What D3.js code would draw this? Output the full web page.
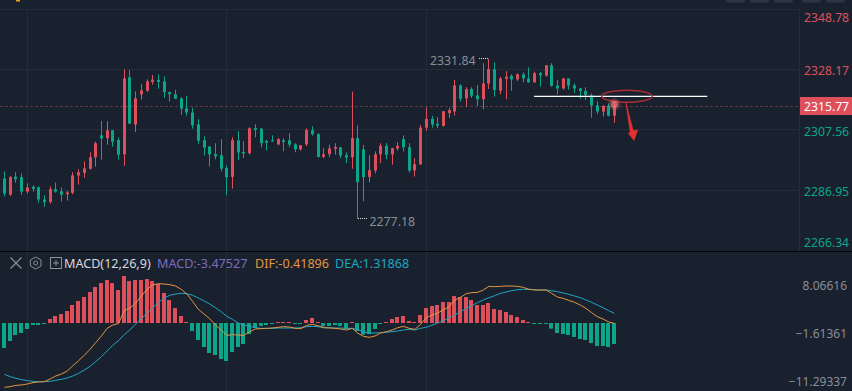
<!DOCTYPE html>
<html>
<head>
<meta charset="utf-8">
<script src="https://cdn.jsdelivr.net/npm/d3@7/dist/d3.min.js"></script>
<style>
  html, body { margin: 0; padding: 0; background: #1a212e; overflow: hidden; }
  svg { display: block; font-family: "Noto Sans", sans-serif; }
</style>
</head>
<body>
<div id="chart-container"></div>
<script>
// Candles
const opens = [2291.0,2285.4,2291.6,2291.4,2286.5,2288.1,2287.9,2283.8,2282.9,2287.3,2286.6,2285.6,2286.1,2292.0,2292.9,2294.3,2298.2,2305.7,2304.7,2307.4,2304.1,2299.2,2325.5,2309.4,2319.7,2320.9,2323.9,2324.6,2324.1,2320.4,2319.7,2318.3,2314.9,2313.5,2309.4,2304.0,2301.9,2299.3,2298.9,2294.5,2291.5,2304.0,2300.0,2299.6,2308.2,2308.0,2303.8,2304.0,2302.6,2304.0,2304.0,2302.6,2300.9,2302.6,2307.4,2306.1,2298.4,2299.3,2301.1,2301.6,2298.9,2298.2,2304.7,2300.9,2291.5,2293.7,2299.2,2302.1,2299.2,2301.2,2304.4,2301.6,2293.7,2295.8,2308.3,2311.3,2309.6,2308.9,2313.3,2313.8,2322.7,2318.3,2321.5,2319.3,2318.0,2323.4,2328.2,2320.9,2325.0,2326.0,2324.8,2326.5,2325.1,2323.8,2326.9,2326.1,2329.6,2322.7,2321.7,2325.1,2322.7,2321.7,2320.8,2319.3,2315.9,2313.8,2315.8,2312.4];
const highs = [2293.4,2291.8,2293.1,2292.7,2289.3,2288.6,2288.3,2285.2,2288.3,2289.6,2287.9,2286.7,2293.1,2294.1,2296.8,2299.9,2303.5,2310.6,2310.5,2307.5,2305.0,2328.3,2328.0,2320.7,2323.2,2324.8,2326.3,2326.5,2325.8,2320.7,2321.2,2318.7,2319.1,2315.1,2311.2,2305.4,2302.0,2303.0,2304.4,2295.5,2305.0,2307.1,2303.7,2308.4,2309.5,2308.2,2304.1,2305.7,2304.8,2304.7,2306.4,2303.0,2302.4,2308.1,2308.8,2306.4,2301.3,2302.5,2303.0,2301.7,2299.9,2320.6,2309.1,2302.4,2298.9,2300.2,2303.0,2303.0,2301.4,2303.4,2305.7,2303.0,2297.9,2309.2,2315.2,2312.3,2311.9,2314.0,2315.1,2324.6,2323.1,2322.1,2322.1,2322.9,2330.3,2331.84,2330.6,2325.7,2327.6,2326.5,2326.8,2327.2,2328.9,2327.4,2327.4,2329.7,2330.3,2324.6,2325.3,2325.1,2323.4,2321.9,2322.1,2320.0,2317.3,2316.0,2316.6,2317.2];
const lows = [2284.8,2285.0,2289.5,2285.4,2285.8,2286.5,2282.7,2281.3,2282.4,2286.1,2283.1,2283.4,2285.6,2288.9,2291.2,2294.0,2295.0,2297.4,2302.5,2301.8,2297.4,2295.3,2309.6,2306.8,2317.9,2320.5,2323.0,2321.6,2318.5,2317.2,2318.1,2312.7,2312.4,2308.0,2302.8,2298.8,2295.0,2297.5,2293.4,2285.2,2287.5,2297.2,2297.9,2299.1,2305.0,2301.6,2300.6,2303.6,2302.3,2300.3,2301.6,2299.9,2300.5,2302.0,2305.6,2298.1,2297.9,2298.2,2299.1,2297.9,2296.2,2294.3,2277.18,2283.2,2289.7,2292.7,2296.2,2297.5,2295.7,2300.5,2300.2,2293.0,2291.6,2295.6,2307.2,2308.3,2308.1,2308.7,2311.7,2312.4,2317.2,2315.5,2318.5,2315.8,2314.6,2321.5,2318.9,2319.7,2318.0,2320.9,2324.2,2323.8,2323.6,2323.6,2322.3,2325.7,2322.3,2319.7,2321.3,2321.3,2320.2,2318.2,2317.7,2311.7,2312.9,2312.1,2312.1,2310.0];
const closes = [2285.8,2291.4,2290.7,2286.5,2287.9,2287.4,2283.8,2282.9,2287.3,2286.5,2285.4,2286.2,2292.0,2293.1,2294.4,2298.2,2303.0,2304.6,2307.4,2303.5,2299.1,2325.1,2309.7,2318.3,2321.0,2324.1,2324.7,2323.9,2320.4,2319.7,2318.2,2314.8,2313.5,2309.1,2303.9,2301.5,2299.2,2298.5,2294.3,2291.4,2304.0,2299.9,2299.5,2308.1,2307.6,2303.0,2303.2,2303.6,2304.4,2303.4,2302.5,2300.9,2302.3,2307.5,2306.1,2298.3,2299.2,2301.2,2301.7,2298.8,2298.1,2304.7,2289.7,2291.4,2293.8,2299.2,2302.1,2299.1,2301.3,2302.1,2301.6,2293.7,2295.8,2308.3,2311.3,2309.4,2309.0,2313.9,2314.3,2322.7,2318.2,2321.4,2319.2,2318.0,2323.4,2328.3,2321.2,2325.1,2325.7,2324.8,2326.5,2325.1,2323.8,2326.9,2326.2,2329.6,2322.6,2321.7,2325.1,2322.7,2321.7,2320.8,2319.5,2315.9,2313.8,2315.7,2312.4,2315.77];

// MACD panel
const histValues = [-5.04,-3.63,-2.42,-2.02,-1.21,-0.40,-0.40,-0.13,0.81,1.41,1.81,2.42,3.63,4.44,5.24,6.25,7.26,8.06,8.67,8.06,6.65,9.48,8.47,8.67,8.67,8.87,8.47,7.86,6.05,4.64,3.02,1.41,0.07,-1.61,-3.43,-4.84,-6.05,-6.45,-7.26,-7.66,-5.85,-4.84,-4.23,-2.22,-1.01,-0.60,-0.40,-0.13,0.07,0.20,0.07,-0.13,-0.13,0.60,1.01,0.13,-0.67,-0.60,-0.40,-0.60,-1.14,0.13,-1.61,-2.35,-2.22,-1.21,-0.13,0.07,0.81,1.21,1.41,0.40,0.07,1.61,3.02,3.43,3.63,4.23,4.23,5.44,5.24,5.24,4.64,3.63,3.63,4.03,2.82,2.62,2.22,1.61,1.21,0.60,0.07,-0.07,-0.20,-0.07,-1.14,-2.02,-2.22,-2.42,-2.82,-3.23,-3.43,-4.03,-4.64,-4.64,-4.84,-4.23];
const difValues = [-12.97,-12.84,-12.57,-12.50,-12.30,-12.03,-11.89,-11.83,-11.29,-10.68,-10.28,-9.68,-8.60,-7.59,-6.52,-5.31,-3.96,-2.62,-1.08,-0.40,-0.13,2.49,3.02,3.96,5.44,6.79,7.66,7.93,7.86,7.73,7.46,6.79,5.85,4.37,2.76,1.81,0.87,-0.40,-1.41,-2.49,-2.35,-2.42,-2.49,-1.75,-1.21,-1.14,-1.08,-1.01,-0.87,-0.74,-0.81,-1.08,-1.14,-0.47,-0.27,-0.54,-0.94,-1.01,-1.08,-1.21,-1.41,-1.08,-2.08,-2.69,-2.89,-2.62,-2.02,-1.75,-1.41,-0.94,-0.67,-1.08,-1.28,-0.27,1.08,1.61,2.02,2.62,3.29,4.64,5.17,5.91,6.12,6.18,6.65,7.39,7.32,7.39,7.46,7.46,7.39,7.19,6.79,6.65,6.65,6.65,5.98,5.24,4.97,4.57,4.17,3.63,2.96,2.08,1.28,0.81,0.20,-0.07];
const deaValues = [-10.35,-10.82,-11.16,-11.42,-11.63,-11.76,-11.83,-11.83,-11.76,-11.56,-11.36,-11.09,-10.68,-10.15,-9.48,-8.74,-7.80,-6.79,-5.64,-4.50,-3.56,-2.35,-1.41,-0.20,0.87,1.95,3.09,4.10,5.04,5.58,5.85,5.98,5.91,5.58,5.04,4.44,3.83,3.09,2.28,1.34,0.74,0.00,-0.40,-0.67,-0.94,-1.08,-1.08,-1.08,-1.01,-1.01,-1.01,-1.01,-0.94,-0.74,-0.67,-0.74,-0.94,-0.94,-1.01,-1.01,-1.08,-1.08,-1.34,-1.75,-2.08,-2.02,-1.95,-1.88,-1.75,-1.61,-1.41,-1.28,-1.41,-1.08,-0.85,-0.45,0.00,0.45,1.05,1.60,2.30,2.89,3.56,4.10,4.64,5.11,5.51,5.98,6.25,6.52,6.72,6.79,6.79,6.72,6.65,6.65,6.52,6.32,6.05,5.78,5.44,5.11,4.64,4.17,3.63,3.09,2.49,1.95];

const priceTicks = [2348.78, 2328.17, 2307.56, 2286.95, 2266.34];
const macdTicks = [8.06616, -1.61361, -11.29337];
const lastPrice = 2315.77;
const highLabel = 2331.84, highIndex = 85;
const lowLabel = 2277.18, lowIndex = 62;

const width = 852, height = 391;
const bg = '#1a212e', grid = '#232d3a', red = '#de4f5c', green = '#0ca58a', gray = '#898d98';

const x = d3.scaleLinear().domain([0, 107]).range([4.5, 614.4]);
const px = i => Math.floor(x(i));
const y = d3.scaleLinear().domain([2266.34, 2348.78]).range([250.6, 9.1]);
const my = d3.scaleLinear().domain([-11.29337, 8.06616]).range([379, 283]);

const svg = d3.select('#chart-container').append('svg')
  .attr('width', width).attr('height', height);

svg.append('rect').attr('width', width).attr('height', height).attr('fill', bg);

// toolbar stubs cut off at the top edge
svg.append('g').selectAll('rect')
  .data([726, 750, 774, 802, 826])
  .join('rect')
  .attr('x', d => d).attr('y', -4).attr('width', 19).attr('height', 6.5).attr('rx', 2.5)
  .attr('fill', '#2c3542');
svg.append('rect').attr('x', 16).attr('y', 0).attr('width', 4).attr('height', 1.5).attr('fill', '#e8a32c');

// grid
const gridG = svg.append('g').attr('stroke', grid).attr('fill', 'none').attr('shape-rendering', 'crispEdges');
gridG.selectAll('.h').data(priceTicks.slice(0, 4)).join('line').attr('class', 'h')
  .attr('x1', 0).attr('x2', 800)
  .attr('y1', d => Math.floor(y(d)) + .5).attr('y2', d => Math.floor(y(d)) + .5);
gridG.selectAll('.v').data([27, 226, 426]).join('line').attr('class', 'v')
  .attr('x1', d => d + .5).attr('x2', d => d + .5).attr('y1', 9).attr('y2', 391);
gridG.append('line').attr('x1', 799.5).attr('x2', 799.5).attr('y1', 9).attr('y2', 251);

// last price line
svg.append('line')
  .attr('x1', 0).attr('x2', 800)
  .attr('y1', Math.round(y(lastPrice)) + .5).attr('y2', Math.round(y(lastPrice)) + .5)
  .attr('stroke', '#5e3540').attr('stroke-width', 1).attr('stroke-dasharray', '3 2');

// candles
const idx = d3.range(opens.length);
const candles = svg.append('g').selectAll('g').data(idx).join('g')
  .attr('fill', i => closes[i] >= opens[i] ? red : green);
candles.append('rect')
  .attr('x', i => px(i)).attr('width', 1)
  .attr('y', i => y(highs[i]))
  .attr('height', i => y(lows[i]) - y(highs[i]));
candles.append('rect')
  .attr('x', i => px(i) - 1).attr('width', 3)
  .attr('y', i => y(Math.max(opens[i], closes[i])))
  .attr('height', i => Math.max(1, Math.abs(y(opens[i]) - y(closes[i]))));

// high / low markers
[[highIndex, highLabel, -1], [lowIndex, lowLabel, 1]].forEach(([i, v, dir]) => {
  svg.append('line')
    .attr('x1', px(i) + (dir > 0 ? 1 : 0)).attr('x2', px(i) + dir * 10)
    .attr('y1', Math.floor(y(v)) + .5).attr('y2', Math.floor(y(v)) + .5)
    .attr('stroke', '#d8dbe0').attr('stroke-dasharray', '1 1');
  svg.append('text')
    .attr('x', px(i) + dir * 12.5).attr('y', y(v) + (dir > 0 ? 7.5 : 6.5))
    .attr('text-anchor', dir > 0 ? 'start' : 'end')
    .attr('font-size', 12.3).attr('fill', gray)
    .text(v.toFixed(2));
});

// price axis
const priceAxis = d3.axisRight(y).tickValues(priceTicks).tickSize(0).tickPadding(4)
  .tickFormat(d3.format('.2f'));
svg.append('g')
  .attr('transform', 'translate(800,0)')
  .call(priceAxis)
  .call(g => g.select('.domain').remove())
  .call(g => g.selectAll('text')
    .attr('font-size', 12.2)
    .attr('font-family', '"Noto Sans", sans-serif')
    .attr('dy', d => d === 2348.78 ? 12.6 : d === 2266.34 ? -4 : 5.4)
    .attr('fill', d => d > lastPrice ? red : green));

svg.append('rect').attr('x', 800).attr('y', 97).attr('width', 52).attr('height', 18).attr('fill', red);
svg.append('text').attr('x', 804).attr('y', 110.5).attr('font-size', 12.2).attr('fill', '#fff')
  .text(lastPrice.toFixed(2));

// panel separator
svg.append('rect').attr('x', 0).attr('y', 251).attr('width', width).attr('height', 1).attr('fill', '#05070b');

// histogram
svg.append('g').selectAll('rect').data(histValues).join('rect')
  .attr('x', (d, i) => px(i) - 2).attr('width', 4)
  .attr('y', d => d >= 0 ? Math.min(my(d), my(0) - 1) : my(0))
  .attr('height', d => Math.max(1, Math.abs(my(d) - my(0))))
  .attr('fill', d => d >= 0 ? red : green);

const macdLine = d3.line().x((d, i) => x(i)).y(d => my(d));
svg.append('path').datum(deaValues).attr('d', macdLine)
  .attr('fill', 'none').attr('stroke', '#1ea6c3').attr('stroke-width', 1);
svg.append('path').datum(difValues).attr('d', macdLine)
  .attr('fill', 'none').attr('stroke', '#e4963f').attr('stroke-width', 1);

const macdAxis = d3.axisLeft(my).tickValues(macdTicks).tickSize(0).tickPadding(0)
  .tickFormat(d3.format('.5f'));
svg.append('g')
  .attr('transform', 'translate(847,0)')
  .call(macdAxis)
  .call(g => g.select('.domain').remove())
  .call(g => g.selectAll('text')
    .attr('font-size', 12)
    .attr('font-family', '"Noto Sans", sans-serif')
    .attr('dy', 6.6)
    .attr('fill', gray));

// MACD header
const icon = svg.append('g').attr('fill', 'none').attr('stroke', '#8b8f99').attr('stroke-width', 1);
icon.append('path').attr('d', 'M10.5 257.5L21.5 268.5M21.5 257.5L10.5 268.5').attr('stroke-width', 1.2);
icon.append('path').attr('d', 'M35.7 257L41 260V266L35.7 269L30.4 266V260Z');
icon.append('circle').attr('cx', 35.7).attr('cy', 263).attr('r', 2);
icon.append('rect').attr('x', 50.5).attr('y', 257.5).attr('width', 11).attr('height', 11);
icon.append('path').attr('d', 'M53 263H59M56 260V266');

const header = [
  { text: 'MACD(12,26,9)', left: 64, color: '#d6d8dd' },
  { text: 'MACD:-3.47527', left: 157, color: '#7c6cc0' },
  { text: 'DIF:-0.41896', left: 255, color: '#e4963f' },
  { text: 'DEA:1.31868', left: 335, color: '#1ea6c3' }
];
svg.append('g').selectAll('text').data(header).join('text')
  .attr('x', d => d.left).attr('y', 267.5)
  .attr('font-size', 12.6)
  .attr('fill', d => d.color)
  .text(d => d.text);

// hand drawn notes on top of the chart
const noteLevel = 2319.0;
const notes = svg.append('g');
notes.append('line')
  .attr('x1', x(92.9)).attr('x2', x(123.3))
  .attr('y1', y(noteLevel)).attr('y2', y(noteLevel))
  .attr('stroke', '#fff').attr('stroke-width', 1.2);
notes.append('ellipse')
  .attr('cx', x(109.2)).attr('cy', y(noteLevel)).attr('rx', 25.3).attr('ry', 6)
  .attr('fill', 'none').attr('stroke', '#a82c33').attr('stroke-width', 1.5);
notes.append('circle')
  .attr('cx', x(107)).attr('cy', y(2316.3)).attr('r', 6)
  .attr('fill', '#f0666c').attr('opacity', .3);
notes.append('circle')
  .attr('cx', x(107)).attr('cy', y(2316.3)).attr('r', 3.5)
  .attr('fill', '#ff8a8a').attr('opacity', .55);
notes.append('path')
  .attr('d', `M${x(109)} ${y(2317)}L${x(109.77)} ${y(2306.7)}L${x(109.44)} ${y(2306.4)}L${x(110.44)} ${y(2303.9)}L${x(111.09)} ${y(2307.5)}L${x(110.3)} ${y(2307.3)}Z`)
  .attr('fill', '#e8302e').attr('stroke', '#e8302e').attr('stroke-width', .5);
</script>
</body>
</html>
